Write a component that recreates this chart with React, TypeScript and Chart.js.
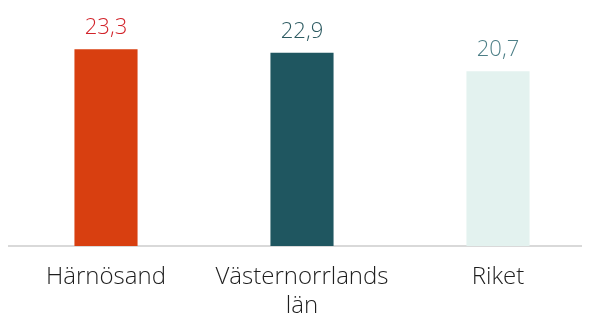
import React, { useEffect, useRef } from "react";
import { Chart, registerables } from "chart.js";

Chart.register(...registerables);

const categories: (string | string[])[] = ["Härnösand", ["Västernorrlands", "län"], "Riket"];
const values: number[] = [23.3, 22.9, 20.7];
const barColors: string[] = ["#d83f10", "#1f5660", "#e3f2ef"];
const valueColors: string[] = ["#d2232a", "#2c5a61", "#4d7f87"];

const FONT = "'Open Sans', sans-serif";

const valueLabelPlugin = {
  id: "valueLabels",
  afterDatasetsDraw(chart: any) {
    const ctx = chart.ctx;
    const meta = chart.getDatasetMeta(0);
    ctx.save();
    ctx.font = `300 22px ${FONT}`;
    ctx.textAlign = "center";
    ctx.textBaseline = "alphabetic";
    meta.data.forEach((bar: any, i: number) => {
      ctx.fillStyle = valueColors[i];
      const txt = values[i].toFixed(1).replace(".", ",");
      ctx.fillText(txt, bar.x, bar.y - 15);
    });
    ctx.restore();
  },
};

export default function App() {
  const ref = useRef<HTMLCanvasElement>(null);
  useEffect(() => {
    if (!ref.current) return;
    const chart = new Chart(ref.current, {
      type: "bar",
      data: {
        labels: categories,
        datasets: [
          {
            data: values,
            backgroundColor: barColors,
            borderWidth: 0,
            categoryPercentage: 1,
            barPercentage: 0.322,
          },
        ],
      },
      options: {
        animation: false,
        responsive: false,
        maintainAspectRatio: false,
        layout: { padding: { top: 27, left: 0, right: 0, bottom: 0 } },
        plugins: { legend: { display: false }, tooltip: { enabled: false } },
        scales: {
          x: {
            grid: { display: false, drawTicks: false },
            border: { display: true, color: "#d9d9d9", width: 2 },
            ticks: {
              color: "#1e1e1e",
              font: { family: FONT, size: 24, weight: "300", lineHeight: 1.2 },
              padding: 17,
              maxRotation: 0,
              autoSkip: false,
            },
            afterFit: (s: any) => {
              s.height = 70;
            },
          },
          y: {
            display: false,
            min: 0,
            max: 25,
          },
        },
      },
      plugins: [valueLabelPlugin],
    });
    return () => chart.destroy();
  }, []);
  return (
    <div style={{ width: 582, height: 308, overflow: "hidden" }}>
      <canvas ref={ref} width={588} height={308} style={{ width: 588, height: 308, display: "block" }} />
    </div>
  );
}
